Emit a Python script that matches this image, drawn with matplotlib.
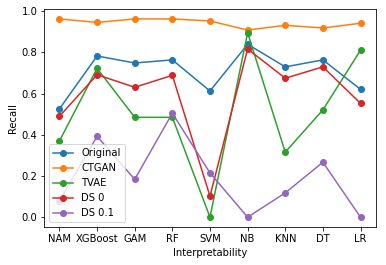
import matplotlib
matplotlib.use('Agg')
import matplotlib.pyplot as plt

models = ['NAM', 'XGBoost', 'GAM', 'RF', 'SVM', 'NB', 'KNN', 'DT', 'LR']
original = [0.526, 0.783, 0.749, 0.764, 0.613, 0.840, 0.730, 0.764, 0.621]
ctgan = [0.963, 0.946, 0.963, 0.963, 0.953, 0.909, 0.932, 0.919, 0.942]
tvae = [0.370, 0.723, 0.485, 0.485, 0.000, 0.896, 0.316, 0.521, 0.811]
ds0 = [0.490, 0.692, 0.631, 0.689, 0.102, 0.817, 0.675, 0.730, 0.553]
ds01 = [0.078, 0.393, 0.184, 0.505, 0.215, 0.000, 0.118, 0.267, 0.000]

dpi = 72
fig, ax = plt.subplots(figsize=(386 / dpi, 265 / dpi), dpi=dpi)
fig.subplots_adjust(left=0.115, right=0.973, top=0.966, bottom=0.143)

ax.plot(models, original, marker='o', label='Original')
ax.plot(models, ctgan, marker='o', label='CTGAN')
ax.plot(models, tvae, marker='o', label='TVAE')
ax.plot(models, ds0, marker='o', label='DS 0')
ax.plot(models, ds01, marker='o', label='DS 0.1')

ax.set_xlabel('Interpretability')
ax.set_ylabel('Recall')
ax.legend(loc='lower left')

fig.savefig('out.png', dpi=dpi)
